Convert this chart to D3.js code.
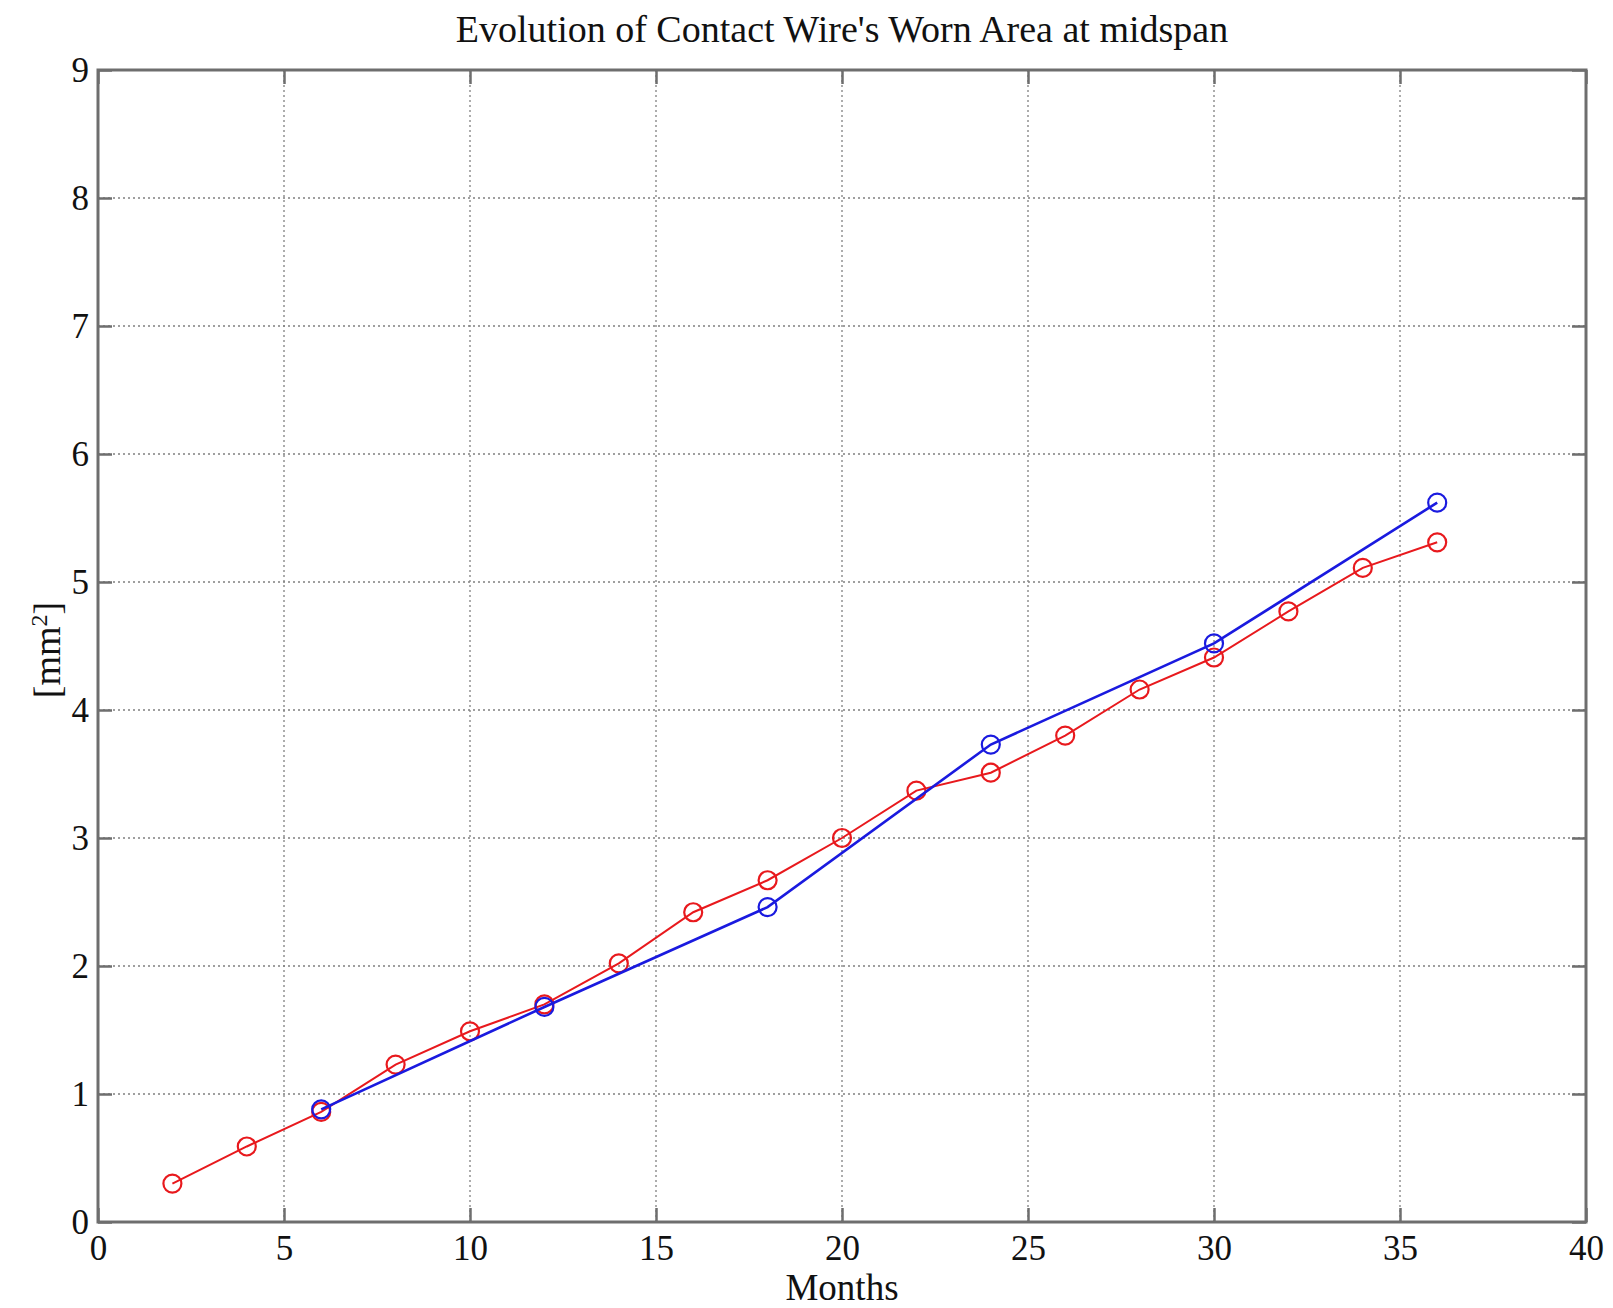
<!DOCTYPE html>
<html>
<head>
<meta charset="utf-8">
<script src="https://cdn.jsdelivr.net/npm/d3@7"></script>
<style>
  html, body { margin: 0; padding: 0; background: #fff; }
  svg { display: block; }
  text { font-family: "Liberation Serif", "DejaVu Serif", serif; fill: #111; }
</style>
</head>
<body>
<svg id="chart" width="1613" height="1308"></svg>
<script>
const titleText = "Evolution of Contact Wire's Worn Area at midspan";
const xLabelText = "Months";
const xTicks = [0, 5, 10, 15, 20, 25, 30, 35, 40];
const yTicks = [0, 1, 2, 3, 4, 5, 6, 7, 8, 9];

const redMonths = [2, 4, 6, 8, 10, 12, 14, 16, 18, 20, 22, 24, 26, 28, 30, 32, 34, 36];
const redValues = [0.30, 0.59, 0.86, 1.23, 1.49, 1.70, 2.02, 2.42, 2.67, 3.00, 3.37, 3.51, 3.80, 4.16, 4.41, 4.77, 5.11, 5.31];

const blueMonths = [6, 12, 18, 24, 30, 36];
const blueValues = [0.88, 1.68, 2.46, 3.73, 4.52, 5.62];

const margin = { left: 98, right: 1613 - 1586, top: 70, bottom: 1308 - 1222 };
const W = 1613, H = 1308;
const svg = d3.select("#chart");

const x = d3.scaleLinear().domain([0, 40]).range([margin.left, W - margin.right]);
const y = d3.scaleLinear().domain([0, 9]).range([H - margin.bottom, margin.top]);

// grid
const grid = svg.append("g");
grid.selectAll("line.vg").data(xTicks.slice(1, -1)).join("line")
  .attr("x1", d => x(d)).attr("x2", d => x(d))
  .attr("y1", y(0)).attr("y2", y(9))
  .attr("stroke", "#808080").attr("stroke-width", 1.3).attr("stroke-dasharray", "2,3");
grid.selectAll("line.hg").data(yTicks.slice(1, -1)).join("line")
  .attr("x1", x(0)).attr("x2", x(40))
  .attr("y1", d => y(d)).attr("y2", d => y(d))
  .attr("stroke", "#808080").attr("stroke-width", 1.3).attr("stroke-dasharray", "2,3");

// axes with inward ticks
const tickLen = 14;
const axisColor = "#6e6e6e";
const tickFont = 35;
function styleAxis(g) {
  g.select(".domain").remove();
  g.selectAll(".tick line").attr("stroke", axisColor).attr("stroke-width", 2.5);
  g.selectAll(".tick text").attr("font-family", "Liberation Serif, serif").attr("font-size", tickFont).attr("fill", "#111");
}
svg.append("g").attr("transform", `translate(0,${y(0)})`)
  .call(d3.axisBottom(x).tickValues(xTicks).tickSize(-tickLen).tickPadding(13).tickFormat(d3.format("d")))
  .call(styleAxis);
svg.append("g").attr("transform", `translate(0,${y(9)})`)
  .call(d3.axisTop(x).tickValues(xTicks).tickSize(-tickLen).tickFormat(""))
  .call(styleAxis);
svg.append("g").attr("transform", `translate(${x(0)},0)`)
  .call(d3.axisLeft(y).tickValues(yTicks).tickSize(-tickLen).tickPadding(9).tickFormat(d3.format("d")))
  .call(styleAxis);
svg.append("g").attr("transform", `translate(${x(40)},0)`)
  .call(d3.axisRight(y).tickValues(yTicks).tickSize(-tickLen).tickFormat(""))
  .call(styleAxis);

// box
svg.append("rect")
  .attr("x", x(0)).attr("y", y(9))
  .attr("width", x(40) - x(0)).attr("height", y(0) - y(9))
  .attr("fill", "none").attr("stroke", axisColor).attr("stroke-width", 3);

// series
const line = d3.line().x(d => x(d[0])).y(d => y(d[1]));
function drawSeries(months, values, color, width) {
  const pts = months.map((m, i) => [m, values[i]]);
  const g = svg.append("g");
  g.append("path").datum(pts).attr("d", line)
    .attr("fill", "none").attr("stroke", color).attr("stroke-width", width);
  g.selectAll("circle").data(pts).join("circle")
    .attr("cx", d => x(d[0])).attr("cy", d => y(d[1])).attr("r", 9)
    .attr("fill", "none").attr("stroke", color).attr("stroke-width", 2.2);
}
drawSeries(redMonths, redValues, "#e8191d", 2);
drawSeries(blueMonths, blueValues, "#1a1adf", 2.6);

// title
svg.append("text").attr("x", (x(0) + x(40)) / 2).attr("y", 42)
  .attr("text-anchor", "middle").attr("font-size", 38).text(titleText);

// x label
svg.append("text").attr("x", (x(0) + x(40)) / 2).attr("y", 1300)
  .attr("text-anchor", "middle").attr("font-size", 37).text(xLabelText);

// y label [mm²]
const yl = svg.append("text").attr("transform", `translate(60,${(y(0) + y(9)) / 2 + 4}) rotate(-90)`)
  .attr("text-anchor", "middle").attr("font-size", 38);
yl.append("tspan").text("[mm");
yl.append("tspan").attr("baseline-shift", "super").attr("font-size", 24).text("2");
yl.append("tspan").text("]");
</script>
</body>
</html>
